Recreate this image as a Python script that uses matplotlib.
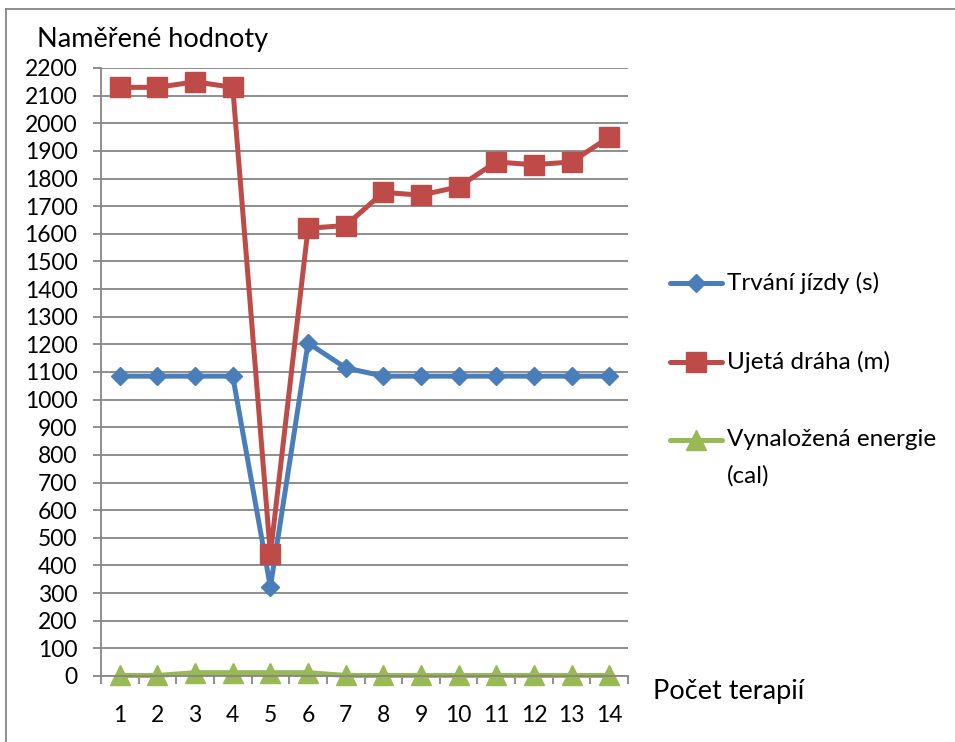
import matplotlib
matplotlib.use('Agg')
import matplotlib.pyplot as plt
from matplotlib.lines import Line2D
import numpy as np

plt.rcParams['font.family'] = ['Lato', 'DejaVu Sans']

# data
terapie = list(range(1, 15))
trvani = [1085, 1085, 1085, 1085, 322, 1205, 1115, 1085, 1085, 1085, 1085, 1085, 1085, 1085]
draha = [2130, 2130, 2150, 2130, 440, 1620, 1630, 1750, 1740, 1770, 1860, 1850, 1860, 1950]
energie = [2, 2, 12, 12, 12, 12, 2, 2, 2, 2, 2, 2, 2, 2]

labels = ['Trvání jízdy (s)', 'Ujetá dráha (m)', 'Vynaložená energie']
colors = ['#4A7EBB', '#BE4B48', '#98B954']
markers = ['D', 's', '^']
msizes = [9.5, 14, 14]

W, H = 955, 742
fig = plt.figure(figsize=(W / 100, H / 100), dpi=100)
ax = fig.add_axes([101 / W, 1 - 676 / H, (628 - 101) / W, (676 - 68) / H])

grid_c = '#868686'
for y, c, m, ms in zip([trvani, draha, energie], colors, markers, msizes):
    ax.plot(terapie, y, color=c, linewidth=3.6, marker=m, markersize=ms,
            markeredgecolor=c, clip_on=False)

ax.set_xlim(0.5, 14.5)
ax.set_ylim(0, 2200)
ax.set_yticks(np.arange(0, 2201, 100))
ax.set_xticks(terapie)
ax.set_xticks(np.arange(0.5, 14.6, 1), minor=True)
ax.yaxis.grid(True, color=grid_c, linewidth=1.3)
ax.set_axisbelow(True)
for s in ['top', 'right']:
    ax.spines[s].set_visible(False)
for s in ['left', 'bottom']:
    ax.spines[s].set_color(grid_c)
    ax.spines[s].set_linewidth(1.3)
ax.tick_params(axis='y', length=6, width=1.3, color=grid_c, pad=11, labelsize=16.5)
ax.tick_params(axis='x', which='major', length=0, pad=21, labelsize=16.5)
ax.tick_params(axis='x', which='minor', length=6, width=1.3, color=grid_c)

fig.text(37 / W, 1 - 40 / H, 'Naměřené hodnoty', fontsize=19.5, va='center', ha='left')
fig.text(653 / W, 1 - 692 / H, 'Počet terapií', fontsize=19.5, va='center', ha='left')

# legend drawn by hand
leg_y = [283, 362, 440]
for lab, c, m, ms, ly in zip(labels, colors, markers, msizes, leg_y):
    yy = 1 - ly / H
    fig.add_artist(Line2D([670 / W, 722 / W], [yy, yy], color=c, linewidth=3.6,
                          solid_capstyle='round'))
    fig.add_artist(Line2D([696 / W], [yy], color=c, marker=m, markersize=ms,
                          markeredgecolor=c))
    fig.text(727 / W, yy, lab, fontsize=17.5, va='center', ha='left')
fig.text(727 / W, 1 - 476 / H, '(cal)', fontsize=17.5, va='center', ha='left')

# chart frame
fy = 1 - 9 / H
fx = 6 / W
fig.add_artist(Line2D([fx, fx], [0, fy], color=grid_c, linewidth=1.3))
fig.add_artist(Line2D([fx, 1], [fy, fy], color=grid_c, linewidth=1.3))

fig.savefig('out.png', dpi=100)
